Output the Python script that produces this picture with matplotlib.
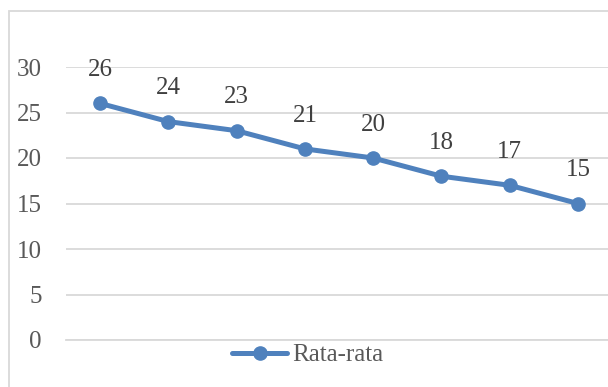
import matplotlib
matplotlib.use('Agg')
import matplotlib.pyplot as plt
from matplotlib.patches import Rectangle

values = [26, 24, 23, 21, 20, 18, 17, 15]
yticks = [0, 5, 10, 15, 20, 25, 30]
seriesName = 'Rata-rata'

lineColor = '#4f81bd'
gridColor = '#d9d9d9'
fs = 18
plt.rcParams['font.family'] = ['Liberation Serif', 'DejaVu Serif']

fig = plt.figure(figsize=(6.08, 3.87), dpi=100)
W, H = 608.0, 387.0
# plot area in pixels: x 66..612, y 67 (30) .. 340 (0)
ax = fig.add_axes([66 / W, 1 - 340 / H, 546 / W, (340 - 67) / H])

xs = list(range(len(values)))
ax.plot(xs, values, '-o', color=lineColor, lw=3.6, ms=9.5, label=seriesName,
        solid_capstyle='round', zorder=3, clip_on=False)
for x, v in zip(xs, values):
    ax.annotate(str(v), (x, v), xytext=(0, 16), textcoords='offset points',
                ha='center', va='bottom', fontsize=fs, color='#404040')

ax.set_xlim(-0.5, len(values) - 0.5)
ax.set_ylim(0, 30)
ax.set_yticks(yticks)
ax.set_xticks([])
ax.grid(axis='y', color=gridColor, lw=1.3)
ax.set_axisbelow(True)
for s in ['top', 'right', 'left']:
    ax.spines[s].set_visible(False)
ax.spines['bottom'].set_color(gridColor)
ax.spines['bottom'].set_linewidth(1.3)
ax.tick_params(axis='y', length=0, pad=17.5, labelsize=fs, labelcolor='#595959')

# chart border
fig.patches.append(Rectangle((9 / W, -0.1), 1.2, 1 - 11 / H + 0.1, transform=fig.transFigure,
                             fill=False, edgecolor=gridColor, lw=1.3))

handles, labels = ax.get_legend_handles_labels()
leg = fig.legend(handles, labels, loc='center left', bbox_to_anchor=(232 / W, 1 - 355 / H),
                 frameon=False, fontsize=fs, handlelength=2.2, handletextpad=0.2,
                 borderpad=0, borderaxespad=0)
for t in leg.get_texts():
    t.set_color('#595959')

fig.savefig('out.png', dpi=100)
